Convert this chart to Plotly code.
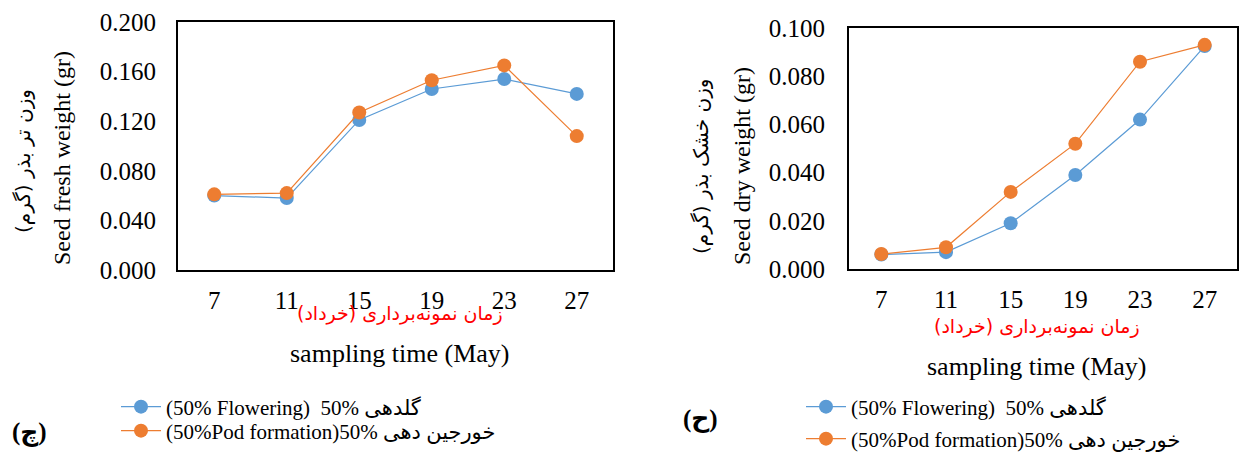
import plotly.graph_objects as go

# ---------------- data ----------------
days = ["7", "11", "15", "19", "23", "27"]
fresh_flowering = [0.060, 0.058, 0.121, 0.146, 0.154, 0.142]
fresh_pod = [0.061, 0.062, 0.127, 0.153, 0.165, 0.108]
dry_flowering = [0.006, 0.007, 0.019, 0.039, 0.062, 0.0925]
dry_pod = [0.0062, 0.009, 0.032, 0.052, 0.086, 0.093]

name_flowering = "(50% Flowering)\u00a0\u00a050% گلدهی"
name_pod = "(50%Pod formation)50% خورجین دهی"

fresh_ticks = [0.0, 0.04, 0.08, 0.12, 0.16, 0.2]
dry_ticks = [0.0, 0.02, 0.04, 0.06, 0.08, 0.1]

BLUE = "#5B9BD5"
ORANGE = "#ED7D31"
SERIF = "Liberation Serif, Times New Roman, DejaVu Sans"
SANS = "DejaVu Sans, Noto Sans, sans-serif"

W, H = 1239, 454
def fx(px):
    return px / W
def fy(py):
    return 1 - py / H

fig = go.Figure()

def add(x, y, color, name, xa, ya, legend):
    fig.add_trace(go.Scatter(
        x=x, y=y, mode="lines+markers", name=name,
        line=dict(color=color, width=1.2),
        marker=dict(color=color, size=14),
        xaxis=xa, yaxis=ya, legend=legend, showlegend=True,
    ))

add(days, fresh_flowering, BLUE, name_flowering, "x", "y", "legend")
add(days, fresh_pod, ORANGE, name_pod, "x", "y", "legend2")
add(days, dry_flowering, BLUE, name_flowering, "x2", "y2", "legend3")
add(days, dry_pod, ORANGE, name_pod, "x2", "y2", "legend4")

axis_common = dict(showline=True, linecolor="black", linewidth=1.8, mirror=True,
                   showgrid=False, zeroline=False, ticks="", automargin=False,
                   tickfont=dict(family=SERIF, size=25, color="black"))

def legend_at(marker_x, row_y):
    return dict(x=fx(marker_x - 21), y=fy(row_y), xanchor="left", yanchor="middle",
                font=dict(family=SERIF, size=21, color="black"),
                bgcolor="rgba(0,0,0,0)", itemwidth=40, visible=True)

fig.update_layout(
    width=W, height=H,
    showlegend=True,
    margin=dict(l=0, r=0, t=0, b=0, autoexpand=False),
    paper_bgcolor="white", plot_bgcolor="white",
    xaxis=dict(domain=[fx(178), fx(613)], anchor="y", type="category",
               range=[-0.5, 5.5], ticklabelstandoff=7, **axis_common),
    yaxis=dict(domain=[fy(270), fy(22)], anchor="x", range=[0, 0.2],
               tickvals=fresh_ticks, tickformat=".3f", ticklabelstandoff=15,
               **axis_common),
    xaxis2=dict(domain=[fx(849), fx(1237)], anchor="y2", type="category",
                range=[-0.5, 5.5], ticklabelstandoff=7, **axis_common),
    yaxis2=dict(domain=[fy(269), fy(28)], anchor="x2", range=[0, 0.1],
                tickvals=dry_ticks, tickformat=".3f", ticklabelstandoff=17,
                **axis_common),
    legend=legend_at(137, 407),
    legend2=legend_at(137, 431),
    legend3=legend_at(822, 407),
    legend4=legend_at(822, 439),
)

def ann(text, x, y, size, family, color="black", angle=0):
    fig.add_annotation(text=text, x=fx(x), y=fy(y), xref="paper", yref="paper",
                       showarrow=False, textangle=angle, xanchor="center", yanchor="middle",
                       font=dict(family=family, size=size, color=color))

# y-axis titles
ann("Seed fresh weight (gr)", 62, 158, 24, SERIF, angle=-90)
ann("وزن تر بذر (گرم)", 23, 161, 20, SANS, angle=-90)
ann("Seed dry weight (gr)", 742, 166, 24, SERIF, angle=-90)
ann("وزن خشک بذر (گرم)", 701, 167, 20, SANS, angle=-90)

# x-axis titles
ann("زمان نمونه‌برداری (خرداد)", 400, 313, 19, SANS, color="red")
ann("sampling time (May)", 400, 353, 26, SERIF)
ann("زمان نمونه‌برداری (خرداد)", 1037, 326, 19, SANS, color="red")
ann("sampling time (May)", 1037, 366, 26, SERIF)

# panel labels
ann("<b>(چ)</b>", 29, 432, 25, SERIF)
ann("<b>(ح)</b>", 700, 419, 25, SERIF)

fig.write_html("out.html", config={"displayModeBar": False},
               post_script="document.body.style.margin='0';")
